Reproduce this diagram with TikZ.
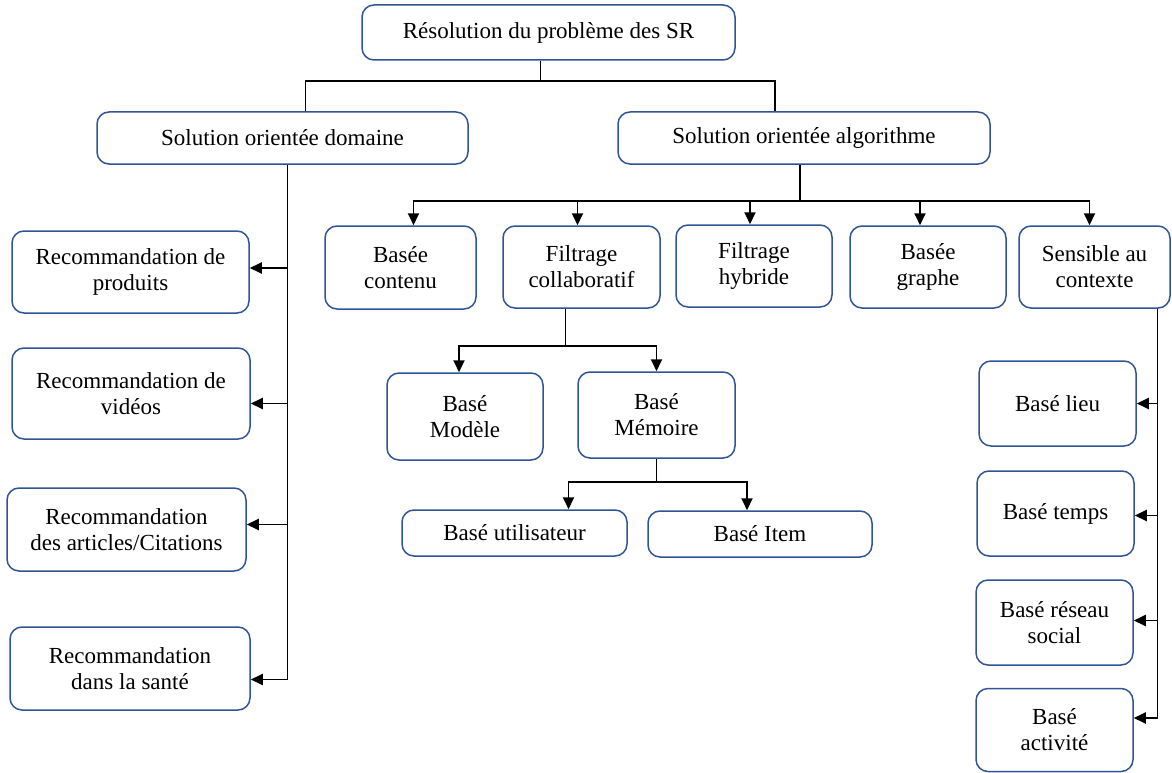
\documentclass[tikz,border=0pt]{standalone}
\usepackage{fontspec}
\setmainfont{Liberation Serif}
\usepackage{tikz}
\usetikzlibrary{arrows.meta,positioning}
\definecolor{boxblue}{RGB}{47,85,151}

\begin{document}
\begin{tikzpicture}[
    x=1pt, y=-1pt,
    box/.style={draw=boxblue, line width=1.5pt, rounded corners=12pt, align=center,
                inner sep=0pt, font=\fontsize{23}{26}\selectfont},
    conn/.style={line width=1.9pt},
    arr/.style={line width=1.9pt, -{Triangle[length=12pt,width=11pt]}}
]
\useasboundingbox (0,0) rectangle (1172,773);

% racine et deux familles de solutions
\node[box, minimum width=373pt, minimum height=55pt] (root) at (548.5,32.5) {R\'esolution du probl\`eme des SR};
\node[box, minimum width=371pt, minimum height=52pt] (domain) at (282.5,138) {Solution orient\'ee domaine};
\node[box, minimum width=372pt, minimum height=52pt] (algo) at (804,138) {Solution orient\'ee algorithme};

% solutions orientees domaine
\node[box, minimum width=237pt, minimum height=82pt] (produits) at (130.5,272) {Recommandation de\\produits};
\node[box, minimum width=238pt, minimum height=91pt] (videos) at (131,393.5) {Recommandation de\\vid\'eos};
\node[box, minimum width=239pt, minimum height=83pt] (articles) at (126.5,529.5) {Recommandation\\des articles/Citations};
\node[box, minimum width=240pt, minimum height=83pt] (sante) at (130,668.5) {Recommandation\\dans la sant\'e};

% solutions orientees algorithme
\node[box, minimum width=151pt, minimum height=83pt] (contenu) at (400.5,267.5) {Bas\'ee\\contenu};
\node[box, minimum width=157pt, minimum height=82pt] (collab) at (581.5,267) {Filtrage\\collaboratif};
\node[box, minimum width=156pt, minimum height=82pt] (hybride) at (754,266) {Filtrage\\hybride};
\node[box, minimum width=156pt, minimum height=82pt] (graphe) at (928,267) {Bas\'ee\\graphe};
\node[box, minimum width=151pt, minimum height=82pt] (contexte) at (1094.5,267) {Sensible au\\contexte};

% filtrage collaboratif
\node[box, minimum width=156pt, minimum height=87pt] (modele) at (465,416.5) {Bas\'e\\Mod\`ele};
\node[box, minimum width=157pt, minimum height=86pt] (memoire) at (656.5,415) {Bas\'e\\M\'emoire};
\node[box, minimum width=225pt, minimum height=46pt] (utilisateur) at (514.5,533) {Bas\'e utilisateur};
\node[box, minimum width=224pt, minimum height=46pt] (item) at (760,534) {Bas\'e Item};

% sensible au contexte
\node[box, minimum width=157pt, minimum height=85pt] (lieu) at (1057.5,403.5) {Bas\'e lieu};
\node[box, minimum width=157pt, minimum height=85pt] (temps) at (1055.5,513.5) {Bas\'e temps};
\node[box, minimum width=157pt, minimum height=85pt] (reseau) at (1054.5,622.5) {Bas\'e r\'eseau\\social};
\node[box, minimum width=157pt, minimum height=83pt] (activite) at (1054.5,730) {Bas\'e\\activit\'e};

% connecteurs
\draw[conn] ([xshift=-8pt]root.south) -- ++(0,20) coordinate (rootj);
\draw[conn] ([xshift=23pt]domain.north) |- (rootj) -| ([xshift=-29pt]algo.north);

\foreach \n/\dy in {produits/4, videos/-10, articles/5, sante/-11}
  \draw[arr] ([xshift=5pt]domain.south) |- ([yshift=\dy pt]\n.east);

\draw[conn] ([xshift=-4pt]algo.south) -- ++(0,36) coordinate (algoj);
\foreach \n/\dx in {contenu/13, collab/-4, hybride/-4, graphe/-8, contexte/-5}
  \draw[arr] (algoj) -| ([xshift=\dx pt]\n.north);

\draw[conn] ([xshift=-16pt]collab.south) -- ++(0,37) coordinate (collabj);
\draw[arr] (collabj) -| ([xshift=-6pt]modele.north);
\draw[arr] (collabj) -| (memoire.north);

\draw[conn] (memoire.south) -- ++(0,23) coordinate (memoirej);
\draw[arr] (memoirej) -| ([xshift=54pt]utilisateur.north);
\draw[arr] (memoirej) -| ([xshift=-13pt]item.north);

\foreach \n/\dy in {lieu/0, temps/-2, reseau/2, activite/12}
  \draw[arr] ([xshift=63pt]contexte.south) |- ([yshift=\dy pt]\n.east);

\end{tikzpicture}
\end{document}
